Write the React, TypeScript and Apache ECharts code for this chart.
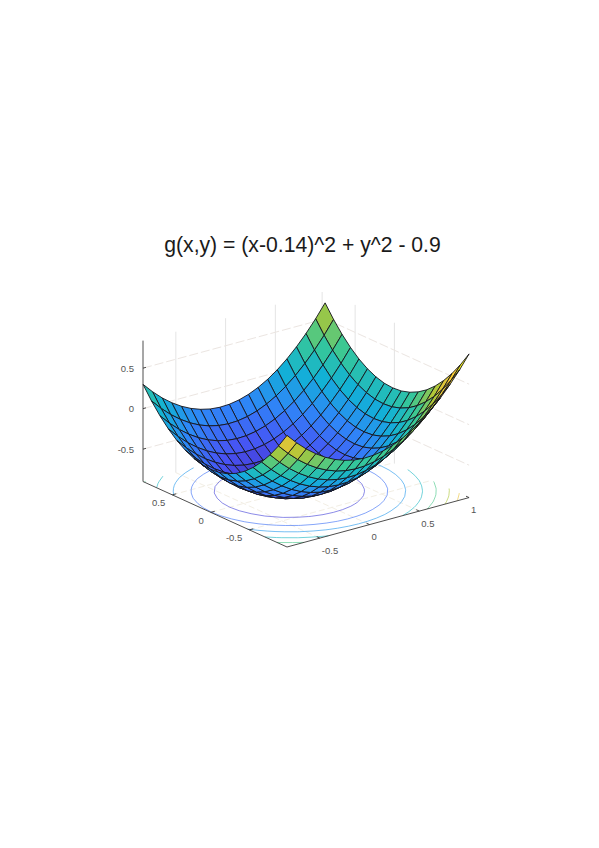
import React, { useEffect, useRef } from "react";
import * as echarts from "echarts";

const xGrid = [-0.83,-0.734,-0.637,-0.541,-0.444,-0.348,-0.252,-0.155,-0.059,0.037,0.134,0.23,0.326,0.423,0.519,0.616,0.712,0.808,0.905,1];
const yGrid = [-0.99,-0.88,-0.77,-0.66,-0.55,-0.44,-0.33,-0.22,-0.11,0,0.11,0.22,0.33,0.44,0.55,0.66,0.77,0.88];
const zz = [
  [.478,.300,.143,.007,-.108,-.203,-.276,-.328,-.360,-.370,-.360,-.328,-.276,-.203,-.108,.007,.143,.300],
  [.355,.177,.020,-.116,-.231,-.326,-.399,-.451,-.483,-.493,-.483,-.451,-.399,-.326,-.231,-.116,.020,.177],
  [.246,.068,-.089,-.225,-.340,-.435,-.508,-.560,-.592,-.602,-.592,-.560,-.508,-.435,-.340,-.225,-.089,.068],
  [.155,-.023,-.180,-.316,-.431,-.526,-.599,-.651,-.683,-.693,-.683,-.651,-.599,-.526,-.431,-.316,-.180,-.023],
  [.079,-.099,-.256,-.392,-.507,-.602,-.675,-.727,-.759,-.769,-.759,-.727,-.675,-.602,-.507,-.392,-.256,-.099],
  [.020,-.158,-.315,-.451,-.566,-.661,-.734,-.786,-.818,-.828,-.818,-.786,-.734,-.661,-.566,-.451,-.315,-.158],
  [-.023,-.201,-.358,-.494,-.609,-.704,-.777,-.829,-.861,-.871,-.861,-.829,-.777,-.704,-.609,-.494,-.358,-.201],
  [-.051,-.229,-.386,-.522,-.637,-.732,-.805,-.857,-.889,-.899,-.889,-.857,-.805,-.732,-.637,-.522,-.386,-.229],
  [-.062,-.240,-.397,-.533,-.648,-.743,-.816,-.868,-.900,-.910,-.900,-.868,-.816,-.743,-.648,-.533,-.397,-.240],
  [-.057,-.235,-.392,-.528,-.643,-.738,-.811,-.863,-.895,-.905,-.895,-.863,-.811,-.738,-.643,-.528,-.392,-.235],
  [-.036,-.214,-.371,-.507,-.622,-.717,-.790,-.842,-.874,-.884,-.874,-.842,-.790,-.717,-.622,-.507,-.371,-.214],
  [.001,-.177,-.334,-.470,-.585,-.680,-.753,-.805,-.837,-.847,-.837,-.805,-.753,-.680,-.585,-.470,-.334,-.177],
  [.054,-.124,-.281,-.417,-.532,-.627,-.700,-.752,-.784,-.794,-.784,-.752,-.700,-.627,-.532,-.417,-.281,-.124],
  [.123,-.055,-.212,-.348,-.463,-.558,-.631,-.683,-.715,-.725,-.715,-.683,-.631,-.558,-.463,-.348,-.212,-.055],
  [.208,.030,-.127,-.263,-.378,-.473,-.546,-.598,-.630,-.640,-.630,-.598,-.546,-.473,-.378,-.263,-.127,.030],
  [.310,.132,-.025,-.161,-.276,-.371,-.444,-.496,-.528,-.538,-.528,-.496,-.444,-.371,-.276,-.161,-.025,.132],
  [.427,.249,.092,-.044,-.159,-.254,-.327,-.379,-.411,-.421,-.411,-.379,-.327,-.254,-.159,-.044,.092,.249],
  [.560,.382,.225,.089,-.026,-.121,-.194,-.246,-.278,-.288,-.278,-.246,-.194,-.121,-.026,.089,.225,.382],
  [.710,.532,.375,.239,.124,.029,-.044,-.096,-.128,-.138,-.128,-.096,-.044,.029,.124,.239,.375,.532],
  [.874,.696,.539,.403,.288,.193,.120,.068,.036,.026,.036,.068,.120,.193,.288,.403,.539,.696],
];
const levels = [-0.6, -0.38, -0.17, 0.06, 0.27, 0.49, 0.67];
const xTicks = [-0.5, 0, 0.5, 1];
const yTicks = [-0.5, 0, 0.5];
const zTicks = [-0.5, 0, 0.5];
const leftWallX = [-0.5, 0, 0.5, 0.97];
const rightWallY = [-0.02, 0.49];
const xMin = -0.83, xMax = 1, yMin = -0.99, yMax = 0.88, zMin = -0.9, zMax = 0.84;
const parula = [[62,38,168],[72,82,244],[46,135,247],[18,177,214],[55,200,151],[171,199,57],[254,195,56],[249,251,21]];

const P = (x: number, y: number, z: number) => [
  287 + (x - xMin) * 99.5 - (y - yMin) * 77,
  547 - (x - xMin) * 27 - (y - yMin) * 35 - (z - zMin) * 81,
];
function col(t: number) {
  const v = Math.max(0, Math.min(0.9999, t)) * 7;
  const i = Math.floor(v), f = v - i;
  const c = parula[i].map((a, k) => Math.round(a + (parula[i + 1][k] - a) * f));
  return `rgb(${c[0]},${c[1]},${c[2]})`;
}
const tone = (z: number, y: number) => 0.52 + 0.5 * z - 0.12 * y;
const levelTone = (level: number) => (level - zMin) / (zMax - zMin) - 0.08;

function contourSegments(level: number) {
  const out: number[][][] = [];
  for (let i = 0; i < xGrid.length - 1; i++) for (let j = 0; j < yGrid.length - 1; j++) {
    const c = [[i, j], [i + 1, j], [i + 1, j + 1], [i, j + 1]];
    const pts: number[][] = [];
    for (let k = 0; k < 4; k++) {
      const [a, b] = c[k], [e, g] = c[(k + 1) % 4];
      const za = zz[a][b], zb = zz[e][g];
      if ((za - level) * (zb - level) < 0) {
        const f = (level - za) / (zb - za);
        pts.push(P(xGrid[a] + (xGrid[e] - xGrid[a]) * f, yGrid[b] + (yGrid[g] - yGrid[b]) * f, zMin));
      }
    }
    if (pts.length >= 2) out.push([pts[0], pts[1]]);
  }
  return out;
}

export default function App() {
  const ref = useRef<HTMLDivElement>(null);
  useEffect(() => {
    const chart = echarts.init(ref.current!, undefined, { renderer: "svg" });
    const cells: number[][] = [];
    for (let i = xGrid.length - 2; i >= 0; i--) for (let j = yGrid.length - 2; j >= 0; j--) cells.push([i, j]);
    const wall = { stroke: "#e4e4e4", lineWidth: 1 };
    const dash = { stroke: "#ebe5e1", lineWidth: 1, lineDash: [9, 3] };
    const floor = { stroke: "#f2eee4", lineWidth: 1, lineDash: [6, 3] };
    const seg = (api: any, a: number[], b: number[], style: any) => {
      const p = api.coord(a), q = api.coord(b);
      return { type: "line", shape: { x1: p[0], y1: p[1], x2: q[0], y2: q[1] }, style };
    };
    const backdrop = (_: any, api: any) => {
      const ch: any[] = [];
      leftWallX.forEach((x) => ch.push(seg(api, P(x, yMax, zMin), P(x, yMax, zMax), wall)));
      rightWallY.forEach((y) => ch.push(seg(api, P(xMax, y, zMin), P(xMax, y, zMax), wall)));
      zTicks.forEach((z) => {
        ch.push(seg(api, P(xMin, yMax, z), P(xMax, yMax, z), dash));
        ch.push(seg(api, P(xMax, yMax, z), P(xMax, yMin, z), dash));
      });
      xTicks.slice(0, 3).forEach((x) => ch.push(seg(api, P(x, yMin, zMin), P(x, yMax, zMin), floor)));
      yTicks.forEach((y) => ch.push(seg(api, P(xMin, y, zMin), P(xMax, y, zMin), floor)));
      return { type: "group", children: ch };
    };
    const axes = (_: any, api: any) => {
      const ax = { stroke: "#3a3a3a", lineWidth: 0.9 };
      const ch: any[] = [
        seg(api, P(xMin, yMax, zMin), P(xMin, yMax, zMax), ax),
        seg(api, P(xMin, yMax, zMin), P(xMin, yMin, zMin), ax),
        seg(api, P(xMin, yMin, zMin), P(xMax, yMin, zMin), ax),
      ];
      const text = (pos: number[], dx: number, dy: number, s: string, align: string) => {
        const p = api.coord(pos);
        ch.push({ type: "text", x: p[0] + dx, y: p[1] + dy, style: { text: s, fontFamily: "Liberation Sans", fontSize: 9.5, fill: "#555", align, verticalAlign: "middle" } });
      };
      xTicks.forEach((x) => { ch.push(seg(api, P(x, yMin, zMin), P(x, yMin + 0.04, zMin), ax)); text(P(x, yMin, zMin), 2, 12, String(x), "left"); });
      yTicks.forEach((y) => { ch.push(seg(api, P(xMin, y, zMin), P(xMin + 0.04, y, zMin), ax)); text(P(xMin, y, zMin), -7, 8, String(y), "right"); });
      zTicks.forEach((z) => { ch.push(seg(api, P(xMin, yMax, z), P(xMin + 0.03, yMax, z), ax)); text(P(xMin, yMax, z), -9, 0, String(z), "right"); });
      return { type: "group", children: ch };
    };
    chart.setOption({
      animation: false,
      title: { text: "g(x,y) = (x-0.14)^2 + y^2 - 0.9", left: 302.5, top: 234, padding: 0, textAlign: "center", textStyle: { fontFamily: "Liberation Sans", fontSize: 21.2, fontWeight: "normal", color: "#1a1a1a" } },
      grid: { left: 0, right: 0, top: 0, bottom: 0 },
      xAxis: { type: "value", min: 0, max: 599, show: false },
      yAxis: { type: "value", min: 0, max: 848, inverse: true, show: false },
      series: [
        { type: "custom", silent: true, data: [0], renderItem: backdrop },
        { type: "custom", silent: true, data: levels, renderItem: (p: any, api: any) => {
            const level = levels[p.dataIndex];
            const style = { stroke: col(levelTone(level)), lineWidth: 1, opacity: 0.62 };
            return { type: "group", children: contourSegments(level).map(([a, b]) => seg(api, a, b, style)) };
          } },
        { type: "custom", silent: true, data: cells, renderItem: (_: any, api: any) => {
            const i = api.value(0) as number, j = api.value(1) as number;
            const corners = [[i, j], [i + 1, j], [i + 1, j + 1], [i, j + 1]];
            const pts = corners.map(([a, b]) => api.coord(P(xGrid[a], yGrid[b], zz[a][b])));
            const z = corners.reduce((s, [a, b]) => s + zz[a][b], 0) / 4;
            const y = (yGrid[j] + yGrid[j + 1]) / 2;
            return { type: "polygon", shape: { points: pts }, style: { fill: col(tone(z, y)), stroke: "#15151c", lineWidth: 0.9, lineJoin: "round" } };
          } },
        { type: "custom", silent: true, data: [0], renderItem: axes },
      ],
    });
    return () => chart.dispose();
  }, []);
  return <div ref={ref} style={{ position: "absolute", left: 0, top: 0, width: 599, height: 848 }} />;
}
